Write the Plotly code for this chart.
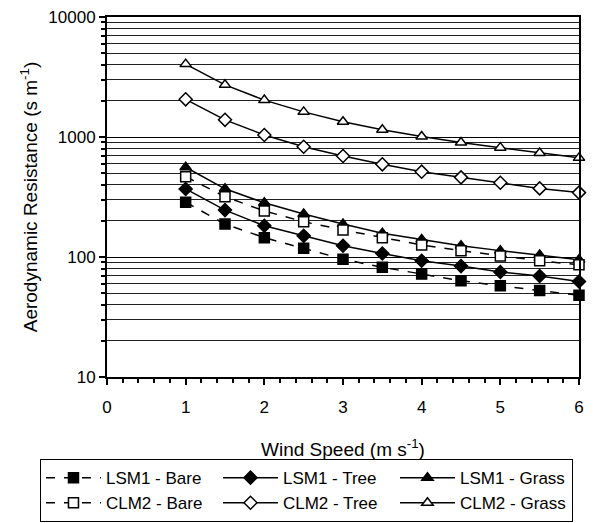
import plotly.graph_objects as go

wind = [1, 1.5, 2, 2.5, 3, 3.5, 4, 4.5, 5, 5.5, 6]
lsm1_bare = [286, 188, 145, 118, 96, 82, 72, 63.5, 57.5, 52.5, 48]
lsm1_tree = [369, 246, 182, 150, 124, 107, 93, 84, 75, 69.5, 62.5]
lsm1_grass = [560, 370, 283, 228, 188, 158, 140, 124, 113, 104, 95]
clm2_bare = [467, 318, 242, 197, 168, 145, 126, 113, 102, 93, 86]
clm2_tree = [2060, 1390, 1040, 830, 695, 592, 514, 461, 416, 373, 344]
clm2_grass = [4050, 2720, 2030, 1620, 1340, 1150, 1010, 900, 815, 735, 670]

y_tickvals = [10, 100, 1000, 10000]
y_ticktext = ["10", "100", "1000", "10000"]

series = [
    ("LSM1 - Bare", lsm1_bare, "square", "black", "dash"),
    ("LSM1 - Tree", lsm1_tree, "diamond", "black", "solid"),
    ("LSM1 - Grass", lsm1_grass, "triangle-up", "black", "solid"),
    ("CLM2 - Bare", clm2_bare, "square", "white", "dash"),
    ("CLM2 - Tree", clm2_tree, "diamond", "white", "solid"),
    ("CLM2 - Grass", clm2_grass, "triangle-up", "white", "solid"),
]

fig = go.Figure()
for name, vals, sym, fill, dash in series:
    fig.add_trace(go.Scatter(
        x=wind, y=vals, name=name, mode="lines+markers",
        line=dict(color="black", width=1.5, dash=dash),
        marker=dict(symbol=sym, size=10, color=fill,
                    line=dict(color="black", width=1.5)),
        cliponaxis=False,
    ))

font = "Liberation Sans, Arial, sans-serif"
fig.update_layout(
    width=596, height=523,
    margin=dict(l=107, r=17, t=17, b=146, autoexpand=False),
    plot_bgcolor="white", paper_bgcolor="white",
    font=dict(family=font, size=16, color="black"),
    showlegend=True,
    legend=dict(
        orientation="h", xref="paper", yref="paper",
        x=-0.142, y=-0.228, xanchor="left", yanchor="top",
        bordercolor="black", borderwidth=1,
        entrywidth=107, entrywidthmode="pixels",
        font=dict(family=font, size=17), tracegroupgap=0, itemwidth=55,
    ),
    xaxis=dict(
        range=[0, 6], dtick=1, showgrid=False, zeroline=False, automargin=True,
        showline=True, linecolor="black", linewidth=2, mirror=True,
        ticks="outside", ticklen=6, tickwidth=2, tickcolor="black",
        tickfont=dict(family=font, size=17), ticklabelstandoff=8,
        minor=dict(dtick=0.2, ticks="outside", ticklen=4, tickcolor="black", tickwidth=1.5),
        title=dict(text="Wind Speed (m s<sup>-1</sup>)", standoff=26),
    ),
    yaxis=dict(
        type="log", range=[1, 4], tickvals=y_tickvals, ticktext=y_ticktext,
        showgrid=True, automargin=True,
        gridcolor="black", gridwidth=1, zeroline=False,
        showline=True, linecolor="black", linewidth=2, mirror=True,
        ticks="outside", ticklen=6, tickwidth=2, tickcolor="black",
        tickfont=dict(family=font, size=17),
        minor=dict(dtick="D1", ticks="outside", ticklen=4, tickcolor="black",
                   showgrid=True, gridcolor="#222", gridwidth=1),
        title=dict(text="Aerodynamic Resistance (s m<sup>-1</sup>)", standoff=6),
    ),
)
fig.write_html("out.html", config={"displayModeBar": False},
               post_script="document.body.style.margin='0px';")
